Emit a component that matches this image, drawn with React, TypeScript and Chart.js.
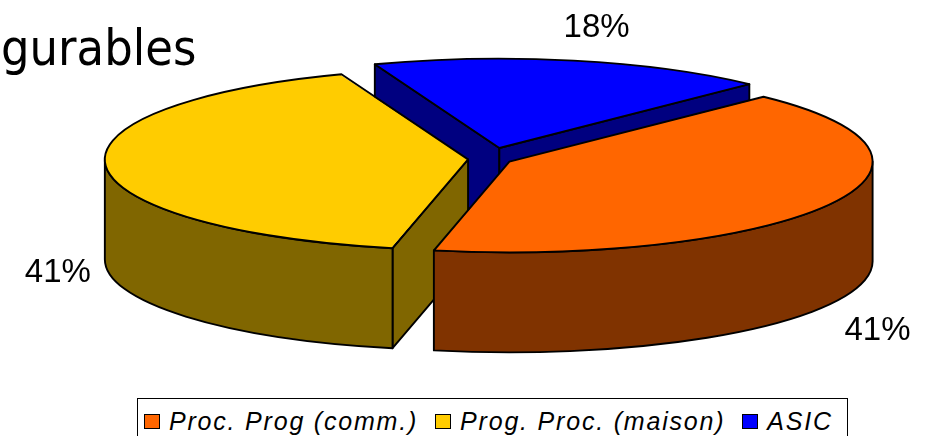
import { useEffect, useRef } from "react";
import { Chart, registerables } from "chart.js";

Chart.register(...registerables);

// Slices, in drawing order (clockwise from the first slice)
const categories = ["Proc. Prog (comm.)", "Prog. Proc. (maison)", "ASIC"];
const shares = [41, 41, 18];
const topColors = ["#FF6600", "#FFCC00", "#0000FF"];
const sideColors = ["#803300", "#806600", "#000080"];
const explodeOffsets = [88, 88, 180];
const titleText = "gurables";

// Pseudo-3D look of the disc
const PIE_RADIUS = 353;
const TILT = 0.25; // vertical squash of the disc
const DEPTH = 100; // thickness of the disc, px
const FIRST_SLICE_ROTATION = 44.4;
const EDGE_WIDTH = 1.9;

const LABEL_FONT = '33px "Liberation Sans", Arial, sans-serif';
const TITLE_FONT = '50px "DejaVu Sans Condensed", "DejaVu Sans", sans-serif';
const LEGEND_FONT = 'italic 25px "Liberation Sans", Arial, sans-serif';

type Geo = { ox: number; oy: number; R: number; a0: number; a1: number; mid: number };

// Where the library puts an exploded arc, projected onto the tilted disc
function sliceGeo(arc: any): Geo {
  const { x, y, startAngle, endAngle, outerRadius, circumference } = arc;
  const t = (arc.options.offset || 0) / 4;
  const fix = 1 - Math.sin(Math.min(Math.PI, circumference || 0));
  const mid = (startAngle + endAngle) / 2;
  return {
    ox: x + Math.cos(mid) * t,
    oy: y + Math.sin(mid) * t * TILT,
    R: outerRadius + t * fix,
    a0: startAngle,
    a1: endAngle,
    mid,
  };
}

function radialFace(ctx: CanvasRenderingContext2D, g: Geo, a: number) {
  const rx = g.ox + g.R * Math.cos(a);
  const ry = g.oy + g.R * TILT * Math.sin(a);
  ctx.beginPath();
  ctx.moveTo(g.ox, g.oy);
  ctx.lineTo(rx, ry);
  ctx.lineTo(rx, ry + DEPTH);
  ctx.lineTo(g.ox, g.oy + DEPTH);
  ctx.closePath();
  ctx.fill();
  ctx.stroke();
}

function outerWall(ctx: CanvasRenderingContext2D, g: Geo, b0: number, b1: number) {
  ctx.beginPath();
  ctx.ellipse(g.ox, g.oy, g.R, g.R * TILT, 0, b0, b1, false);
  ctx.lineTo(g.ox + g.R * Math.cos(b1), g.oy + g.R * TILT * Math.sin(b1) + DEPTH);
  ctx.ellipse(g.ox, g.oy + DEPTH, g.R, g.R * TILT, 0, b1, b0, true);
  ctx.closePath();
  ctx.fill();
  ctx.stroke();
}

const pseudo3d = {
  id: "pseudo3d",
  beforeDatasetsDraw(chart: any) {
    const ctx: CanvasRenderingContext2D = chart.ctx;
    const meta = chart.getDatasetMeta(0);
    const items = meta.data.map((arc: any, i: number) => ({ g: sliceGeo(arc), i }));
    // back slices first
    items.sort((p: any, q: any) => Math.sin(p.g.mid) - Math.sin(q.g.mid));
    ctx.save();
    ctx.lineWidth = EDGE_WIDTH;
    ctx.strokeStyle = "#000";
    ctx.lineJoin = "round";
    for (const { g, i } of items) {
      ctx.fillStyle = sideColors[i];
      if (Math.cos(g.a0) < 0) radialFace(ctx, g, g.a0);
      if (Math.cos(g.a1) > 0) radialFace(ctx, g, g.a1);
      for (let n = -2; n <= 2; n++) {
        const lo = Math.max(g.a0, 2 * Math.PI * n);
        const hi = Math.min(g.a1, 2 * Math.PI * n + Math.PI);
        if (hi > lo) outerWall(ctx, g, lo, hi);
      }
    }
    ctx.restore();
    // tilt the disc for the library's own slice drawing
    const cy = meta.data.length ? meta.data[0].y : 0;
    ctx.save();
    ctx.translate(0, cy);
    ctx.scale(1, TILT);
    ctx.translate(0, -cy);
  },
  afterDatasetsDraw(chart: any) {
    const ctx: CanvasRenderingContext2D = chart.ctx;
    ctx.restore();
    const meta = chart.getDatasetMeta(0);
    const values: number[] = chart.data.datasets[0].data;
    const total = values.reduce((s, v) => s + v, 0);

    ctx.save();
    ctx.lineWidth = EDGE_WIDTH;
    ctx.strokeStyle = "#000";
    ctx.lineJoin = "round";
    meta.data.forEach((arc: any, i: number) => {
      const g = sliceGeo(arc);
      ctx.beginPath();
      ctx.moveTo(g.ox, g.oy);
      ctx.ellipse(g.ox, g.oy, g.R, g.R * TILT, 0, g.a0, g.a1, false);
      ctx.closePath();
      ctx.stroke();

      // percentage label outside the rim
      const c = Math.cos(g.mid);
      const s = Math.sin(g.mid);
      const rimX = g.ox + g.R * c;
      const rimY = g.oy + g.R * TILT * s;
      const lx = rimX + 48 * Math.sign(c) * Math.min(1, 2.3 * Math.abs(c));
      const ly = rimY + (s > 0 ? DEPTH + 50 * s : 36 * s);
      ctx.font = LABEL_FONT;
      ctx.fillStyle = "#000";
      ctx.textAlign = "center";
      ctx.textBaseline = "alphabetic";
      ctx.fillText(`${Math.round((values[i] / total) * 100)}%`, lx, ly + 12);
    });

    ctx.font = TITLE_FONT;
    ctx.textAlign = "left";
    ctx.fillText(titleText, 1, 65);
    ctx.restore();
  },
};

export default function App() {
  const canvasRef = useRef<HTMLCanvasElement | null>(null);

  useEffect(() => {
    if (!canvasRef.current) return;
    const chart = new Chart(canvasRef.current, {
      type: "pie",
      data: {
        labels: categories,
        datasets: [
          {
            data: shares,
            backgroundColor: topColors,
            borderWidth: 0,
            offset: explodeOffsets,
            radius: PIE_RADIUS,
            rotation: FIRST_SLICE_ROTATION,
            clip: false,
          } as any,
        ],
      },
      options: {
        responsive: false,
        animation: false,
        events: [],
        layout: { padding: { left: 47, right: 0, top: 0, bottom: 118 } },
        plugins: {
          legend: { display: false },
          tooltip: { enabled: false },
          title: { display: false },
        },
      } as any,
      plugins: [pseudo3d],
    });
    return () => chart.destroy();
  }, []);

  return (
    <div
      style={{
        position: "fixed",
        left: 0,
        top: 0,
        width: 933,
        height: 436,
        overflow: "hidden",
        background: "#fff",
      }}
    >
      <canvas ref={canvasRef} width={933} height={436} style={{ display: "block" }} />
      <div
        style={{
          position: "absolute",
          left: 137,
          top: 398,
          border: "1.5px solid #000",
          padding: "8px 14px 8px 6px",
          display: "flex",
          alignItems: "center",
          font: LEGEND_FONT,
          lineHeight: "28px",
          letterSpacing: "1.8px",
          whiteSpace: "nowrap",
          background: "#fff",
          color: "#000",
        }}
      >
        {categories.map((c, i) => (
          <span
            key={c}
            style={{
              display: "flex",
              alignItems: "center",
              marginRight: i < categories.length - 1 ? 17 : 0,
            }}
          >
            <span
              style={{
                width: 14,
                height: 13,
                border: "1px solid #000",
                background: topColors[i],
                marginRight: 9,
                display: "inline-block",
              }}
            />
            <span>{c}</span>
          </span>
        ))}
      </div>
    </div>
  );
}
